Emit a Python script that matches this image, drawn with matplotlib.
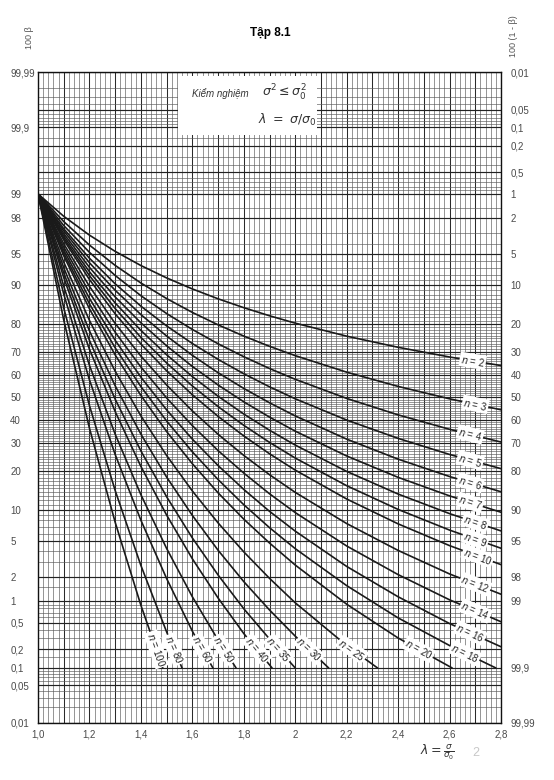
import numpy as np
import matplotlib
matplotlib.use("Agg")
import matplotlib.pyplot as plt
from matplotlib.patches import Rectangle
from math import erf, sqrt

# lambda = sigma / sigma0 where the curves are sampled
LAMBDA = [1.0, 1.1, 1.2, 1.3, 1.4, 1.5, 1.6, 1.7, 1.8, 1.9, 2.0, 2.2, 2.4, 2.6, 2.8]

# 100*beta (%) along each curve, one value per LAMBDA entry.
# Short lists stop where the curve runs into the 0.1 % line.
BETA_N2 = [99, 98.08, 96.82, 95.25, 93.42, 91.41, 89.26, 87.03, 84.76, 82.48, 80.22, 75.83, 71.69, 67.82, 64.24]
BETA_N3 = [99, 97.78, 95.92, 93.44, 90.46, 87.09, 83.45, 79.68, 75.86, 72.07, 68.38, 61.39, 55.04, 49.40, 44.42]
BETA_N4 = [99, 97.53, 95.14, 91.84, 87.76, 83.13, 78.15, 73.04, 67.94, 62.98, 58.24, 49.58, 42.13, 35.82, 30.54]
BETA_N5 = [99, 97.31, 94.42, 90.30, 85.17, 79.33, 73.13, 66.85, 60.71, 54.86, 49.41, 39.84, 32.02, 25.76, 20.81]
BETA_N6 = [99, 97.15, 93.82, 88.97, 82.83, 75.88, 68.51, 61.16, 54.13, 47.60, 41.67, 31.72, 24.06, 18.33, 14.07]
BETA_N7 = [99, 96.95, 93.15, 87.47, 80.32, 72.26, 63.87, 55.69, 48.04, 41.14, 35.03, 25.20, 18.08, 13.05, 9.49]
BETA_N8 = [99, 96.76, 92.46, 86.00, 77.84, 68.74, 59.45, 50.59, 42.51, 35.43, 29.34, 19.93, 13.50, 9.23, 6.37]
BETA_N9 = [99, 96.58, 91.81, 84.53, 75.40, 65.33, 55.26, 45.86, 37.53, 30.41, 24.46, 15.68, 10.05, 6.49, 4.25]
BETA_N10 = [99, 96.41, 91.12, 83.05, 72.94, 62.00, 51.26, 41.47, 33.03, 26.02, 20.34, 12.31, 7.44, 4.53, 2.81]
BETA_N12 = [99, 96.05, 89.79, 80.12, 68.21, 55.68, 43.92, 33.72, 25.41, 18.89, 13.92, 7.49, 4.03, 2.19, 1.23]
BETA_N14 = [99, 95.72, 88.49, 77.21, 63.62, 49.80, 37.41, 27.22, 19.39, 13.57, 9.43, 4.49, 2.15, 1.04, 0.52]
BETA_N16 = [99, 95.39, 87.13, 74.33, 59.19, 44.38, 31.71, 21.85, 14.68, 9.67, 6.34, 2.68, 1.14, 0.49, 0.22]
BETA_N18 = [99, 95.05, 85.79, 71.47, 54.96, 39.41, 26.74, 17.43, 11.03, 6.85, 4.21, 1.58, 0.59, 0.23]
BETA_N20 = [99, 94.73, 84.46, 68.67, 50.92, 34.87, 22.47, 13.81, 8.23, 4.82, 2.78, 0.91, 0.30]
BETA_N25 = [99, 93.91, 81.08, 61.82, 41.69, 25.38, 14.28, 7.60, 3.89, 1.94, 0.95, 0.23]
BETA_N30 = [99, 93.11, 77.69, 55.33, 33.78, 18.16, 8.90, 4.05, 1.77, 0.76, 0.32]
BETA_N35 = [99, 92.29, 74.30, 49.24, 27.09, 12.84, 5.43, 2.13, 0.79, 0.29]
BETA_N40 = [99, 91.47, 70.94, 43.62, 21.55, 8.96, 3.27, 1.10, 0.35]
BETA_N50 = [99, 89.83, 64.35, 33.77, 13.34, 4.23, 1.14, 0.28]
BETA_N60 = [99, 88.15, 58.01, 25.75, 8.04, 1.93, 0.38]
BETA_N80 = [99, 84.72, 46.33, 14.39, 2.75, 0.37]
BETA_N100 = [99, 81.22, 36.32, 7.70, 0.88]

CURVES = {2: BETA_N2, 3: BETA_N3, 4: BETA_N4, 5: BETA_N5, 6: BETA_N6, 7: BETA_N7,
          8: BETA_N8, 9: BETA_N9, 10: BETA_N10, 12: BETA_N12, 14: BETA_N14,
          16: BETA_N16, 18: BETA_N18, 20: BETA_N20, 25: BETA_N25, 30: BETA_N30,
          35: BETA_N35, 40: BETA_N40, 50: BETA_N50, 60: BETA_N60, 80: BETA_N80,
          100: BETA_N100}

# lambda where the short curves end on the 0.1 % line
END_BETA = 0.1
END_LAMBDA = {18: 2.78, 20: 2.61, 25: 2.32, 30: 2.13, 35: 2.00, 40: 1.91,
              50: 1.77, 60: 1.68, 80: 1.56, 100: 1.485}

# tick labels of the two probability axes
LEFT_TICKS = [0.01, 0.05, 0.1, 0.2, 0.5, 1, 2, 5, 10, 20, 30, 40, 50, 60, 70, 80,
              90, 95, 98, 99, 99.9, 99.99]
RIGHT_TICKS = [99.99, 99.95, 99.9, 99.8, 99.5, 99, 98, 95, 90, 80, 70, 60, 50, 40,
               30, 20, 10, 5, 2, 1, 0.1, 0.01]
X_TICKS = [1.0, 1.2, 1.4, 1.6, 1.8, 2.0, 2.2, 2.4, 2.6, 2.8]

# where the "n = .." tags sit: on lambda for the flat curves, on beta for the steep ones
LABEL_LAMBDA = {2: 2.69, 3: 2.70, 4: 2.68, 5: 2.68, 6: 2.68, 7: 2.68, 8: 2.70,
                9: 2.70, 10: 2.71, 12: 2.70, 14: 2.70, 16: 2.68, 18: 2.66}
LABEL_BETA = 0.2

W, H = 554, 780

# ---- normal probability scale ------------------------------------------
PA = [-3.969683028665376e+01, 2.209460984245205e+02, -2.759285104469687e+02,
      1.383577518672690e+02, -3.066479806614716e+01, 2.506628277459239e+00]
PB = [-5.447609879822406e+01, 1.615858368580409e+02, -1.556989798598866e+02,
      6.680131188771972e+01, -1.328068155288572e+01]
PC = [-7.784894002430293e-03, -3.223964580411365e-01, -2.400758277161838e+00,
      -2.549732539343734e+00, 4.374664141464968e+00, 2.938163982698783e+00]
PD = [7.784695709041462e-03, 3.224671290700398e-01, 2.445134137142996e+00,
      3.754408661907416e+00]
P_LOW = 0.02425


def _tail(q):
    num = ((((PC[0] * q + PC[1]) * q + PC[2]) * q + PC[3]) * q + PC[4]) * q + PC[5]
    den = (((PD[0] * q + PD[1]) * q + PD[2]) * q + PD[3]) * q + 1
    return num / den


def probit(pct):
    shape = np.shape(pct)
    p = np.clip(np.atleast_1d(np.asarray(pct, dtype=float)) / 100.0, 1e-12, 1 - 1e-12)
    z = np.empty_like(p)
    lo = p < P_LOW
    hi = p > 1 - P_LOW
    mid = ~(lo | hi)
    z[lo] = _tail(np.sqrt(-2 * np.log(p[lo])))
    z[hi] = -_tail(np.sqrt(-2 * np.log(1 - p[hi])))
    q = p[mid] - 0.5
    r = q * q
    num = (((((PA[0] * r + PA[1]) * r + PA[2]) * r + PA[3]) * r + PA[4]) * r + PA[5]) * q
    den = ((((PB[0] * r + PB[1]) * r + PB[2]) * r + PB[3]) * r + PB[4]) * r + 1
    z[mid] = num / den
    return z.reshape(shape)


_erf = np.vectorize(erf, otypes=[float])


def probit_inv(z):
    return 50.0 * (1.0 + _erf(np.asarray(z, dtype=float) / sqrt(2.0)))


def comma(v):
    return f"{round(v, 2):g}".replace(".", ",")


def px(x, y):
    return x / W, 1 - y / H


# ---- figure ---------------------------------------------------------------
plt.rcParams["font.family"] = ["Liberation Sans", "DejaVu Sans"]
plt.rcParams["mathtext.fontset"] = "dejavusans"

fig = plt.figure(figsize=(W / 100, H / 100), dpi=100)
fig.patch.set_facecolor("white")
left, right, top, bottom = 38, 501, 72, 723
ax = fig.add_axes([left / W, 1 - bottom / H, (right - left) / W, (bottom - top) / H])

ax.set_xlim(1.0, 2.8)
ax.set_yscale("function", functions=(probit, probit_inv))
ax.set_ylim(0.01, 99.99)

# grid of the probability paper
v_grid = np.round(np.arange(1.0, 2.8001, 0.02), 2)
for v in v_grid:
    strong = abs(v * 10 - round(v * 10)) < 1e-6
    ax.axvline(v, color="#2a2a2a" if strong else "#5a5a5a",
               lw=0.75 if strong else 0.45, zorder=1)

h_grid = np.concatenate([
    np.arange(0.01, 0.1, 0.01), np.arange(0.1, 1.0, 0.1), [0.15],
    np.arange(1, 10, 1), [1.5], np.arange(10, 91, 1), np.arange(91, 99, 1), [98.5],
    np.arange(99.0, 99.9, 0.1), [99.85], np.arange(99.9, 99.995, 0.01),
])
h_grid = np.unique(np.round(h_grid, 2))
h_grid = h_grid[(h_grid >= 0.01) & (h_grid <= 99.99)]
major = set(np.round(LEFT_TICKS + RIGHT_TICKS, 2))
for h in h_grid:
    strong = h in major
    ax.axhline(h, color="#222222" if strong else "#5a5a5a",
               lw=0.85 if strong else 0.45, zorder=1)

# operating characteristic curves
lines = {}
for n, beta in CURVES.items():
    lam = LAMBDA[:len(beta)]
    b = list(beta)
    if n in END_LAMBDA:
        lam = lam + [END_LAMBDA[n]]
        b = b + [END_BETA]
    ax.plot(lam, b, color="#1a1a1a", lw=1.2, solid_capstyle="round", zorder=3)
    lines[n] = (lam, b)


def put_label(n, lam, beta):
    pts = ax.transData.transform(np.column_stack([lam, beta]))
    if n in LABEL_LAMBDA:
        target = ax.transData.transform([[LABEL_LAMBDA[n], 50]])[0, 0]
        i = int(np.clip(np.searchsorted(pts[:, 0], target), 1, len(pts) - 1))
        p0, p1 = pts[i - 1], pts[i]
        t = (target - p0[0]) / (p1[0] - p0[0])
    else:
        target = ax.transData.transform([[1.5, LABEL_BETA]])[0, 1]
        i = int(np.clip(np.searchsorted(-pts[:, 1], -target), 1, len(pts) - 1))
        p0, p1 = pts[i - 1], pts[i]
        t = (target - p0[1]) / (p1[1] - p0[1])
    pos = p0 + t * (p1 - p0)
    ang = np.degrees(np.arctan2(p1[1] - p0[1], p1[0] - p0[0]))
    x, y = ax.transData.inverted().transform(pos)
    ax.text(x, y, rf"$n$ = {n}", rotation=ang, rotation_mode="anchor",
            ha="center", va="center", fontsize=7, color="#222222", zorder=5,
            bbox=dict(boxstyle="square,pad=0.12", fc="white", ec="none"))


for n, (lam, b) in lines.items():
    put_label(n, lam, b)

# white panel with the test statement
ax.add_patch(Rectangle((0.3024, 0.9032), 0.3002, 0.0907, transform=ax.transAxes,
                       facecolor="white", edgecolor="none", zorder=2.5))
fig.text(*px(192, 94), "Kiểm nghiệm", fontsize=7, style="italic", color="#333333",
         va="center", ha="left")
fig.text(*px(262, 93), r"$\sigma^2 \leq \sigma_0^2$", fontsize=9, color="#333333",
         va="center", ha="left")
fig.text(*px(258, 120), r"$\lambda\ =\ \sigma/\sigma_0$", fontsize=9, color="#333333",
         va="center", ha="left")

# axes decoration
for s in ax.spines.values():
    s.set_color("#111111")
    s.set_linewidth(1.0)
    s.set_zorder(4)

ax.yaxis.set_minor_locator(matplotlib.ticker.NullLocator())
ax.xaxis.set_minor_locator(matplotlib.ticker.NullLocator())
ax.set_xticks(X_TICKS)
ax.set_xticklabels([comma(v) if v != 1.0 else "1,0" for v in X_TICKS])
ax.set_yticks(LEFT_TICKS)
ax.set_yticklabels([comma(v) for v in LEFT_TICKS])
ax.tick_params(axis="both", length=0, labelsize=7, labelcolor="#4a4a4a")
ax.tick_params(axis="x", pad=5)
ax.tick_params(axis="y", pad=20)
for lbl in ax.get_yticklabels():
    lbl.set_ha("left")

ax2 = ax.twinx()
ax2.set_yscale("function", functions=(probit, probit_inv))
ax2.set_ylim(0.01, 99.99)
ax2.yaxis.set_minor_locator(matplotlib.ticker.NullLocator())
ax2.set_yticks(RIGHT_TICKS)
ax2.set_yticklabels([comma(100 - v) for v in RIGHT_TICKS])
ax2.tick_params(axis="y", length=0, labelsize=7, labelcolor="#4a4a4a", pad=7)
for s in ax2.spines.values():
    s.set_visible(False)

fig.text(*px(29, 38), "100 β", rotation=90, fontsize=6.5, color="#555555",
         ha="center", va="center")
fig.text(*px(514, 36), "100 (1 - β)", rotation=90, fontsize=6.5, color="#555555",
         ha="center", va="center")
fig.text(*px(270, 33), "Tập 8.1", fontsize=8.5, fontweight="bold", ha="center",
         va="center")
fig.text(*px(437, 752), r"$\lambda = \frac{\sigma}{\sigma_0}$", fontsize=9,
         color="#333333", ha="center", va="center")
fig.text(*px(476, 753), "2", fontsize=9, color="#c8c8c8", ha="center", va="center")

fig.savefig("out.png", dpi=100, facecolor="white")
